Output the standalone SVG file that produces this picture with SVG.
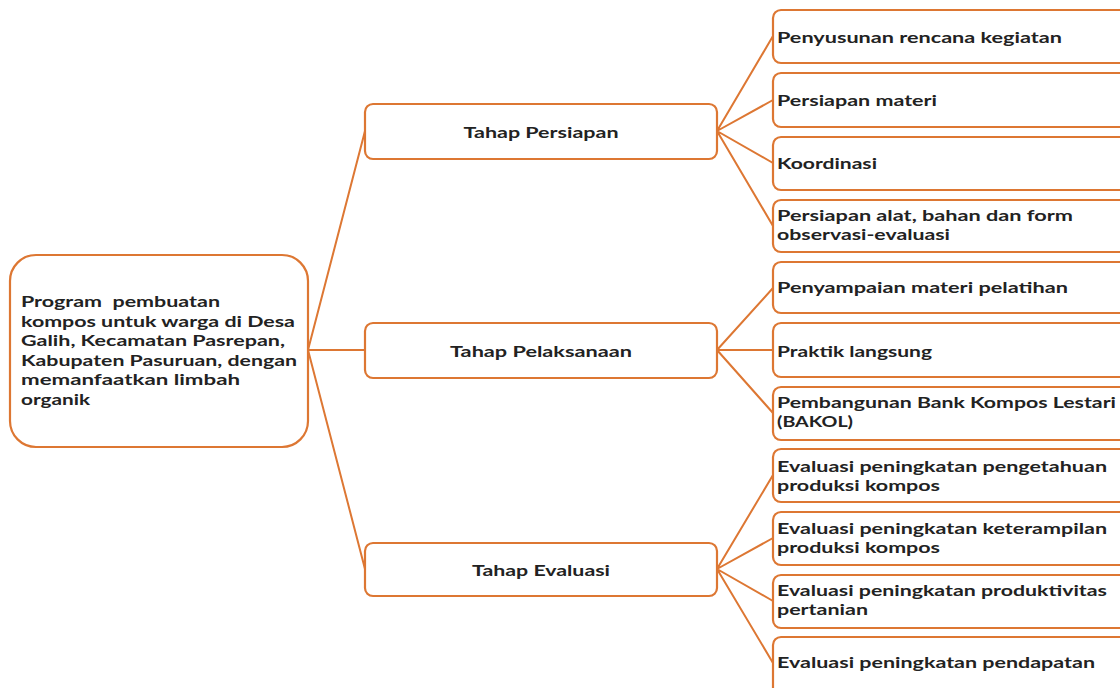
<svg xmlns="http://www.w3.org/2000/svg" width="1120" height="688" viewBox="0 0 1120 688">
<style>
.box{fill:#fff;stroke:#DD7733;stroke-width:2.2}
.ln{stroke:#DD7733;stroke-width:2;fill:none}
.t{font-family:Lato,"Liberation Sans",sans-serif;font-size:15.5px;font-weight:bold;fill:#222}
.m{text-anchor:middle}
</style>
<rect width="1120" height="688" fill="#fff"/>
<g id="connectors">
<path class="ln" d="M308 350 L365 131 M308 350 L365 350 M308 350 L365 569"/>
<path class="ln" d="M717 131 L773 36 M717 131 L773 100 M717 131 L773 163 M717 131 L773 226"/>
<path class="ln" d="M717 350 L773 288 M717 350 L773 350 M717 350 L773 413"/>
<path class="ln" d="M717 569 L773 475 M717 569 L773 538 M717 569 L773 601 M717 569 L773 663"/>
</g>
<g id="root">
<rect class="box" x="10" y="255" width="298" height="192" rx="26"/>
<text class="t" x="21" y="307" textLength="199" lengthAdjust="spacingAndGlyphs">Program&#160; pembuatan</text>
<text class="t" x="21" y="327" textLength="274" lengthAdjust="spacingAndGlyphs">kompos untuk warga di Desa</text>
<text class="t" x="21" y="346" textLength="264" lengthAdjust="spacingAndGlyphs">Galih, Kecamatan Pasrepan,</text>
<text class="t" x="21" y="366" textLength="276" lengthAdjust="spacingAndGlyphs">Kabupaten Pasuruan, dengan</text>
<text class="t" x="21" y="385" textLength="219" lengthAdjust="spacingAndGlyphs">memanfaatkan limbah</text>
<text class="t" x="21" y="405" textLength="69" lengthAdjust="spacingAndGlyphs">organik</text>
</g>
<g id="tahap-persiapan">
<rect class="box" x="365" y="104" width="352" height="55" rx="8"/>
<text class="t m" x="541" y="138" textLength="155" lengthAdjust="spacingAndGlyphs">Tahap Persiapan</text>
</g>
<g id="tahap-pelaksanaan">
<rect class="box" x="365" y="323" width="352" height="55" rx="8"/>
<text class="t m" x="541" y="357" textLength="182" lengthAdjust="spacingAndGlyphs">Tahap Pelaksanaan</text>
</g>
<g id="tahap-evaluasi">
<rect class="box" x="365" y="543" width="352" height="53" rx="8"/>
<text class="t m" x="541" y="576" textLength="138" lengthAdjust="spacingAndGlyphs">Tahap Evaluasi</text>
</g>
<g id="n1"><rect class="box" x="773" y="10" width="360" height="53" rx="8"/><text class="t" x="777" y="43" textLength="285" lengthAdjust="spacingAndGlyphs">Penyusunan rencana kegiatan</text></g>
<g id="n2"><rect class="box" x="773" y="73" width="360" height="54" rx="8"/><text class="t" x="777" y="106" textLength="160" lengthAdjust="spacingAndGlyphs">Persiapan materi</text></g>
<g id="n3"><rect class="box" x="773" y="137" width="360" height="53" rx="8"/><text class="t" x="777" y="169" textLength="100" lengthAdjust="spacingAndGlyphs">Koordinasi</text></g>
<g id="n4"><rect class="box" x="773" y="200" width="360" height="52" rx="8"/><text class="t" x="777" y="221" textLength="296" lengthAdjust="spacingAndGlyphs">Persiapan alat, bahan dan form</text><text class="t" x="777" y="240" textLength="173" lengthAdjust="spacingAndGlyphs">observasi-evaluasi</text></g>
<g id="n5"><rect class="box" x="773" y="262" width="360" height="51" rx="8"/><text class="t" x="777" y="293" textLength="291" lengthAdjust="spacingAndGlyphs">Penyampaian materi pelatihan</text></g>
<g id="n6"><rect class="box" x="773" y="323" width="360" height="54" rx="8"/><text class="t" x="777" y="357" textLength="155" lengthAdjust="spacingAndGlyphs">Praktik langsung</text></g>
<g id="n7"><rect class="box" x="773" y="387" width="360" height="53" rx="8"/><text class="t" x="777" y="408" textLength="339" lengthAdjust="spacingAndGlyphs">Pembangunan Bank Kompos Lestari</text><text class="t" x="777" y="427" textLength="76" lengthAdjust="spacingAndGlyphs">(BAKOL)</text></g>
<g id="n8"><rect class="box" x="773" y="449" width="360" height="53" rx="8"/><text class="t" x="777" y="472" textLength="330" lengthAdjust="spacingAndGlyphs">Evaluasi peningkatan pengetahuan</text><text class="t" x="777" y="491" textLength="163" lengthAdjust="spacingAndGlyphs">produksi kompos</text></g>
<g id="n9"><rect class="box" x="773" y="512" width="360" height="53" rx="8"/><text class="t" x="777" y="534" textLength="330" lengthAdjust="spacingAndGlyphs">Evaluasi peningkatan keterampilan</text><text class="t" x="777" y="553" textLength="163" lengthAdjust="spacingAndGlyphs">produksi kompos</text></g>
<g id="n10"><rect class="box" x="773" y="575" width="360" height="53" rx="8"/><text class="t" x="777" y="596" textLength="330" lengthAdjust="spacingAndGlyphs">Evaluasi peningkatan produktivitas</text><text class="t" x="777" y="615" textLength="91" lengthAdjust="spacingAndGlyphs">pertanian</text></g>
<g id="n11"><rect class="box" x="773" y="637" width="360" height="60" rx="8"/><text class="t" x="777" y="668" textLength="318" lengthAdjust="spacingAndGlyphs">Evaluasi peningkatan pendapatan</text></g>
</svg>
